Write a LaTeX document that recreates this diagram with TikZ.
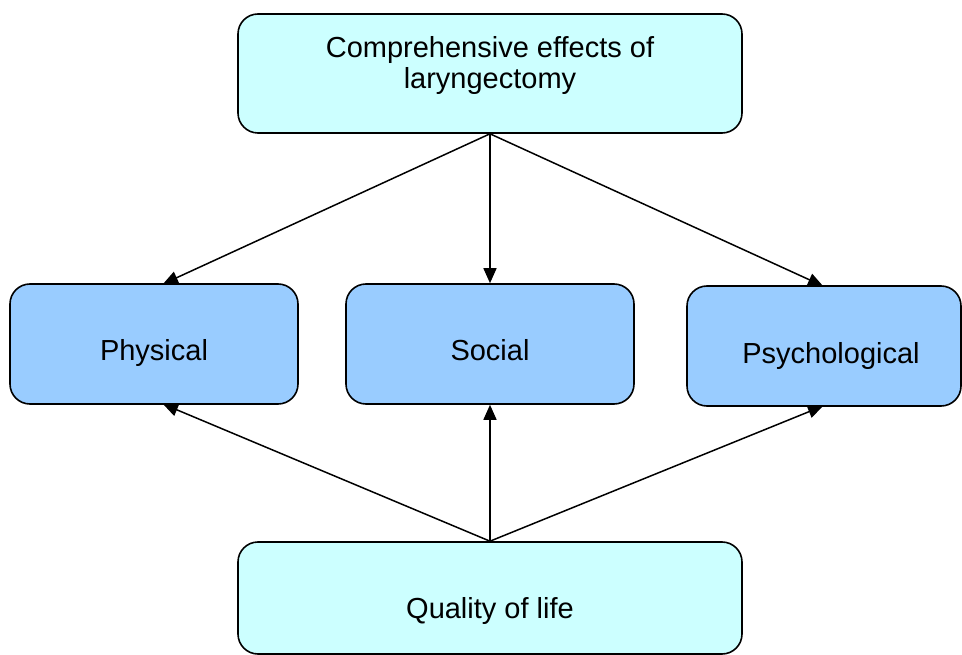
\documentclass[tikz,border=0pt]{standalone}
\usepackage{fontspec}
\setmainfont{Liberation Sans}
\usetikzlibrary{arrows.meta,calc}
\definecolor{lightcyan}{HTML}{CCFFFF}
\definecolor{midblue}{HTML}{99CCFF}
\tikzset{
  box/.style={draw=black, line width=1.6pt, rounded corners=20pt, inner sep=0pt},
  outerbox/.style={box, fill=lightcyan, minimum width=504pt},
  midbox/.style={box, fill=midblue, minimum height=120pt},
  lbl/.style={font=\fontsize{29}{31}\selectfont, align=center, inner sep=0pt, anchor=base},
  arr/.style={line width=1.5pt, -{Triangle[length=15pt,width=13pt]}},
}
\begin{document}
\begin{tikzpicture}[x=1pt,y=-1pt]
\useasboundingbox (0,0) rectangle (962,655);
\node[outerbox, minimum height=119pt] (top) at (490,73.5) {};
\node[lbl] (toptext) at (490,89) {Comprehensive effects of\\laryngectomy};
\node[midbox, minimum width=288pt] (phys) at (154,344) {};
\node[lbl] (physt) at (154,360) {Physical};
\node[midbox, minimum width=288pt] (soc) at (490,344) {};
\node[lbl] (soct) at (490,360) {Social};
\node[midbox, minimum width=274pt] (psy) at (824,346) {};
\node[lbl] (psyt) at (831,363) {Psychological};
\node[outerbox, minimum height=112pt] (bot) at (490,598) {};
\node[lbl] (bott) at (490,618) {Quality of life};
\coordinate (pt) at (163,284);
\coordinate (pb) at (163,404);
\coordinate (yt) at (823,286);
\coordinate (yb) at (823,406);
\draw[arr] (top.south) -- (pt);
\draw[arr] (top.south) -- (soc.north);
\draw[arr] (top.south) -- (yt);
\draw[arr] (bot.north) -- (pb);
\draw[arr] (bot.north) -- (soc.south);
\draw[arr] (bot.north) -- (yb);
\end{tikzpicture}
\end{document}
